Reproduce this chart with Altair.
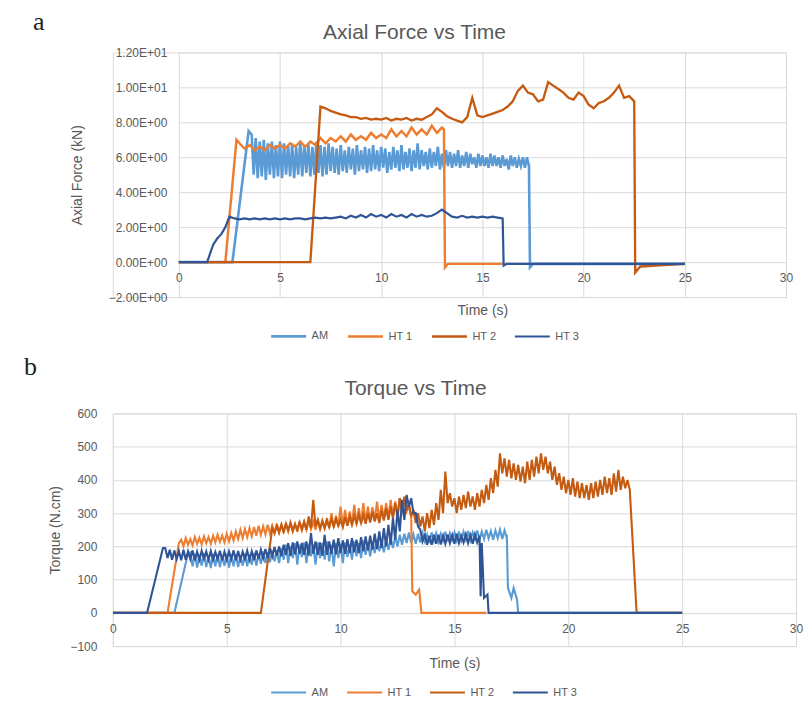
import altair as alt
import pandas as pd

SERIES = ["AM", "HT 1", "HT 2", "HT 3"]
COLORS = ["#5B9BD5", "#ED7D31", "#C55A11", "#2F5597"]
X_TICKS = [0, 5, 10, 15, 20, 25, 30]
FORCE_TICKS = [-2, 0, 2, 4, 6, 8, 10, 12]
TORQUE_TICKS = [-100, 0, 100, 200, 300, 400, 500, 600]

# ---------------- Axial force (kN) ----------------
# AM: dense oscillation, read as upper / lower envelope every 0.2 s
AM_F_HEAD_T = [0, 2.65, 3.45]
AM_F_HEAD_V = [0, 0, 7.5]
AM_F_T0, AM_F_DT = 3.6, 0.2
AM_F_HI = [7.3, 7.1, 6.9, 7.0, 6.8, 6.9, 6.7, 6.9, 6.8, 6.7,
           6.8, 6.6, 6.9, 6.7, 6.8, 6.6, 6.9, 6.7, 6.6, 6.8,
           6.6, 6.5, 6.7, 6.4, 6.6, 6.5, 6.7, 6.4, 6.6, 6.5,
           6.7, 6.4, 6.6, 6.5, 6.3, 6.6, 6.4, 6.7, 6.3, 6.5,
           6.4, 6.8, 6.4, 6.3, 6.5, 6.3, 6.6, 6.2, 6.4, 6.3,
           6.2, 6.4, 6.1, 6.3, 6.2, 6.0, 6.2, 6.1, 6.0, 6.2,
           6.1, 6.0, 6.1, 5.9, 6.1, 6.0, 5.9, 6.0, 6.0]
AM_F_LO = [5.0, 4.8, 4.9, 4.7, 5.0, 4.8, 4.9, 4.8, 5.0, 4.9,
           4.8, 5.0, 4.9, 5.1, 4.9, 5.0, 5.1, 4.9, 5.0, 5.2,
           5.1, 5.0, 5.2, 5.1, 5.3, 5.0, 5.2, 5.3, 5.1, 5.2,
           5.3, 5.2, 5.4, 5.1, 5.3, 5.4, 5.2, 5.3, 5.4, 5.2,
           5.4, 5.3, 5.5, 5.3, 5.4, 5.5, 5.3, 5.4, 5.5, 5.4,
           5.5, 5.4, 5.5, 5.4, 5.6, 5.4, 5.5, 5.5, 5.4, 5.5,
           5.5, 5.4, 5.5, 5.3, 5.5, 5.4, 5.5, 5.4, 5.5]
AM_F_TAIL_T = [17.3, 17.35, 17.5, 25]
AM_F_TAIL_V = [5.6, -0.3, -0.1, -0.1]

HT1_F_HEAD_T = [0, 2.3, 2.85]
HT1_F_HEAD_V = [0, 0, 7.0]
HT1_F_T0, HT1_F_DT = 3.0, 0.25
HT1_F_BAND = [6.8, 6.5, 6.7, 6.4, 6.6, 6.4, 6.7, 6.5, 6.7, 6.5,
              6.8, 6.6, 6.9, 6.6, 6.9, 6.7, 7.1, 6.8, 7.1, 6.9,
              7.2, 6.9, 7.3, 7.0, 7.2, 7.0, 7.4, 7.1, 7.3, 7.1,
              7.6, 7.2, 7.5, 7.2, 7.7, 7.3, 7.6, 7.3, 7.8, 7.4,
              7.7]
HT1_F_TAIL_T = [13.1, 13.15, 13.3, 16.0]
HT1_F_TAIL_V = [7.6, -0.3, -0.1, -0.1]

HT2_F_HEAD_T = [0, 6.5, 7.0]
HT2_F_HEAD_V = [0, 0, 8.9]
HT2_F_T0, HT2_F_DT = 7.25, 0.25
HT2_F_BAND = [8.8, 8.65, 8.55, 8.45, 8.4, 8.3, 8.3, 8.2, 8.25, 8.15,
              8.2, 8.15, 8.25, 8.1, 8.2, 8.15, 8.25, 8.1, 8.2, 8.15,
              8.3, 8.45, 8.8, 8.6, 8.35, 8.2, 8.1, 8.0, 8.3, 9.4,
              8.4, 8.3, 8.4, 8.5, 8.6, 8.7, 8.9, 9.2, 9.8, 10.1,
              9.7, 9.6, 9.2, 9.3, 10.3, 10.1, 9.9, 9.7, 9.4, 9.3,
              9.7, 9.5, 9.0, 8.8, 9.1, 9.2, 9.4, 9.7, 10.1, 9.4,
              9.5, 9.2]
HT2_F_TAIL_T = [22.55, 22.8, 25]
HT2_F_TAIL_V = [-0.6, -0.25, -0.1]

HT3_F_HEAD_T = [0, 1.4, 1.55, 1.7, 1.9, 2.1, 2.3, 2.5]
HT3_F_HEAD_V = [0, 0, 0.5, 1.0, 1.35, 1.6, 2.0, 2.6]
HT3_F_T0, HT3_F_DT = 2.75, 0.25
HT3_F_BAND = [2.5, 2.45, 2.5, 2.45, 2.5, 2.45, 2.5, 2.45, 2.5, 2.45,
              2.5, 2.45, 2.5, 2.5, 2.45, 2.5, 2.55, 2.5, 2.55, 2.5,
              2.55, 2.6, 2.5, 2.65, 2.55, 2.7, 2.55, 2.75, 2.6, 2.7,
              2.55, 2.75, 2.6, 2.7, 2.55, 2.75, 2.6, 2.7, 2.6, 2.65,
              2.8, 3.0, 2.8, 2.6, 2.55, 2.65, 2.55, 2.6, 2.55, 2.6,
              2.55, 2.6, 2.55, 2.5]
HT3_F_TAIL_T = [16.05, 16.2, 25]
HT3_F_TAIL_V = [-0.2, -0.1, -0.1]

# ---------------- Torque (N.cm) : upper / lower envelopes every 0.2 s ----------------
AM_Q_HEAD_T = [0, 2.7, 3.3]
AM_Q_HEAD_V = [0, 0, 180]
AM_Q_T0, AM_Q_DT = 3.4, 0.2
AM_Q_HI = [182, 178, 175, 180, 172, 178, 176, 170, 178, 174,
           176, 172, 178, 175, 180, 178, 185, 182, 188, 186,
           195, 205, 200, 210, 205, 212, 208, 205, 212, 210,
           215, 205, 210, 208, 212, 205, 215, 210, 218, 212,
           215, 220, 218, 222, 225, 230, 235, 238, 242, 236,
           238, 240, 236, 242, 240, 238, 244, 240, 242, 245,
           244, 246, 242, 248, 245, 250, 246, 248, 250, 248]
AM_Q_LO = [140, 136, 142, 138, 135, 140, 138, 142, 136, 140,
           138, 142, 140, 145, 142, 148, 150, 152, 155, 150,
           160, 150, 165, 145, 168, 150, 170, 145, 165, 160,
           155, 140, 165, 150, 168, 160, 170, 165, 175, 170,
           180, 185, 182, 190, 195, 200, 205, 210, 212, 208,
           212, 215, 210, 216, 214, 218, 215, 220, 217, 218,
           220, 218, 222, 220, 222, 224, 220, 225, 222, 225]
AM_Q_TAIL_T = [17.3, 17.35, 17.5, 17.6, 17.75, 17.8, 25]
AM_Q_TAIL_V = [235, 75, 45, 75, 40, 0, 0]

HT1_Q_HEAD_T = [0, 2.4, 2.9]
HT1_Q_HEAD_V = [0, 0, 210]
HT1_Q_T0, HT1_Q_DT = 3.0, 0.2
HT1_Q_HI = [220, 225, 222, 228, 226, 230, 228, 232, 235, 233,
            238, 240, 245, 250, 252, 255, 258, 262, 260, 265,
            262, 268, 265, 270, 272, 268, 275, 272, 278, 275,
            280, 278, 285, 300, 290, 320, 310, 305, 325, 315,
            330, 320, 318, 335, 325, 330, 340, 335, 345, 340,
            320]
HT1_Q_LO = [200, 205, 203, 208, 206, 210, 208, 212, 214, 212,
            215, 218, 222, 225, 228, 230, 232, 235, 236, 238,
            240, 242, 240, 245, 246, 244, 248, 250, 252, 250,
            252, 255, 255, 258, 260, 262, 262, 265, 268, 270,
            272, 275, 278, 280, 282, 285, 288, 292, 300, 305,
            290]
HT1_Q_TAIL_T = [13.1, 13.15, 13.3, 13.45, 13.55, 16.4]
HT1_Q_TAIL_V = [290, 65, 55, 70, 0, 0]

HT2_Q_HEAD_T = [0, 6.5]
HT2_Q_HEAD_V = [0, 0]
HT2_Q_T0, HT2_Q_DT = 7.0, 0.2
HT2_Q_HI = [255, 262, 265, 268, 270, 266, 272, 275, 290, 340,
            280, 275, 278, 282, 285, 280, 288, 290, 292, 295,
            295, 300, 305, 300, 310, 315, 320, 330, 345, 350,
            330, 310, 300, 290, 300, 310, 330, 370, 425, 360,
            345, 350, 355, 365, 350, 360, 370, 385, 405, 430,
            480, 465, 460, 450, 445, 440, 455, 460, 470, 480,
            470, 455, 440, 420, 410, 400, 405, 395, 390, 385,
            390, 395, 400, 410, 405, 420, 430, 410, 400]
HT2_Q_LO = [240, 242, 245, 248, 246, 250, 252, 250, 255, 260,
            252, 255, 258, 260, 262, 258, 262, 265, 268, 270,
            268, 272, 275, 270, 278, 280, 285, 290, 300, 310,
            290, 270, 260, 245, 255, 265, 280, 300, 330, 320,
            300, 310, 315, 320, 310, 320, 330, 340, 360, 380,
            420, 410, 405, 400, 395, 390, 400, 410, 420, 430,
            420, 400, 385, 370, 360, 355, 350, 345, 345, 340,
            345, 350, 355, 360, 355, 365, 370, 375, 370]
HT2_Q_TAIL_T = [23.0, 25]
HT2_Q_TAIL_V = [0, 0]

HT3_Q_HEAD_T = [0, 1.5, 2.2]
HT3_Q_HEAD_V = [0, 0, 195]
HT3_Q_T0, HT3_Q_DT = 2.3, 0.2
HT3_Q_HI = [195, 190, 188, 186, 190, 185, 188, 184, 187, 185,
            186, 183, 187, 184, 185, 188, 186, 184, 187, 185,
            188, 190, 192, 195, 198, 200, 205, 210, 212, 215,
            210, 215, 240, 215, 212, 235, 215, 220, 225, 218,
            222, 225, 220, 228, 230, 232, 238, 245, 255, 265,
            285, 310, 340, 355, 345, 300, 250, 235, 232, 235,
            235, 232, 236, 234, 238, 232, 236, 234, 236, 232]
HT3_Q_LO = [165, 160, 162, 158, 160, 162, 158, 160, 163, 160,
            160, 162, 158, 160, 162, 158, 160, 162, 160, 158,
            162, 165, 165, 170, 172, 170, 175, 172, 176, 178,
            175, 172, 178, 175, 172, 175, 178, 176, 180, 178,
            180, 182, 180, 185, 188, 190, 192, 195, 200, 205,
            220, 245, 280, 320, 300, 260, 215, 205, 205, 208,
            206, 208, 210, 208, 210, 212, 210, 208, 212, 210]
HT3_Q_TAIL_T = [16.15, 16.3, 16.45, 16.5, 25]
HT3_Q_TAIL_V = [50, 45, 55, 0, 0]


def rows_single(name, head_t, head_v, t0, dt, band, tail_t, tail_v):
    rows = [{"t": t, "v": v, "s": name} for t, v in zip(head_t, head_v)]
    rows += [{"t": round(t0 + i * dt, 3), "v": v, "s": name} for i, v in enumerate(band)]
    rows += [{"t": t, "v": v, "s": name} for t, v in zip(tail_t, tail_v)]
    return rows


def rows_envelope(name, head_t, head_v, t0, dt, hi, lo, tail_t, tail_v):
    # the recorded signal swings between its upper and lower envelope
    rows = [{"t": t, "v": v, "s": name} for t, v in zip(head_t, head_v)]
    for i, (h, l) in enumerate(zip(hi, lo)):
        rows.append({"t": round(t0 + i * dt, 3), "v": h, "s": name})
        rows.append({"t": round(t0 + i * dt + dt / 2, 3), "v": l, "s": name})
    rows += [{"t": t, "v": v, "s": name} for t, v in zip(tail_t, tail_v)]
    return rows


force_df = pd.DataFrame(
    rows_envelope("AM", AM_F_HEAD_T, AM_F_HEAD_V, AM_F_T0, AM_F_DT, AM_F_HI, AM_F_LO, AM_F_TAIL_T, AM_F_TAIL_V)
    + rows_single("HT 1", HT1_F_HEAD_T, HT1_F_HEAD_V, HT1_F_T0, HT1_F_DT, HT1_F_BAND, HT1_F_TAIL_T, HT1_F_TAIL_V)
    + rows_single("HT 2", HT2_F_HEAD_T, HT2_F_HEAD_V, HT2_F_T0, HT2_F_DT, HT2_F_BAND, HT2_F_TAIL_T, HT2_F_TAIL_V)
    + rows_single("HT 3", HT3_F_HEAD_T, HT3_F_HEAD_V, HT3_F_T0, HT3_F_DT, HT3_F_BAND, HT3_F_TAIL_T, HT3_F_TAIL_V)
)
torque_df = pd.DataFrame(
    rows_envelope("AM", AM_Q_HEAD_T, AM_Q_HEAD_V, AM_Q_T0, AM_Q_DT, AM_Q_HI, AM_Q_LO, AM_Q_TAIL_T, AM_Q_TAIL_V)
    + rows_envelope("HT 1", HT1_Q_HEAD_T, HT1_Q_HEAD_V, HT1_Q_T0, HT1_Q_DT, HT1_Q_HI, HT1_Q_LO, HT1_Q_TAIL_T, HT1_Q_TAIL_V)
    + rows_envelope("HT 2", HT2_Q_HEAD_T, HT2_Q_HEAD_V, HT2_Q_T0, HT2_Q_DT, HT2_Q_HI, HT2_Q_LO, HT2_Q_TAIL_T, HT2_Q_TAIL_V)
    + rows_envelope("HT 3", HT3_Q_HEAD_T, HT3_Q_HEAD_V, HT3_Q_T0, HT3_Q_DT, HT3_Q_HI, HT3_Q_LO, HT3_Q_TAIL_T, HT3_Q_TAIL_V)
)

FONT = "Liberation Sans"
GREY = "#595959"
GRID = "#D9D9D9"


def panel(df, ytitle, yticks, ydomain, ylabel_expr, title, title_x, title_y,
          width, height, x_range_start, x_offset, x_label_pad, x_title_pad,
          y_offset, y_label_pad, y_title_pad, legend_x, legend_y,
          letter, letter_x, letter_y, widths):
    lines = alt.Chart(df).mark_line(clip=True).encode(
        x=alt.X("t:Q", title="Time (s)",
                scale=alt.Scale(domain=[0, 30], nice=False, range=[x_range_start, width]),
                axis=alt.Axis(values=X_TICKS, offset=x_offset, labelPadding=x_label_pad,
                              titlePadding=x_title_pad, ticks=False, domain=False,
                              labelFlush=False,
                              grid=True, gridColor=GRID, labelFont=FONT, titleFont=FONT,
                              labelFontSize=12, titleFontSize=14,
                              labelColor=GREY, titleColor=GREY, titleFontWeight="normal")),
        y=alt.Y("v:Q", title=ytitle,
                scale=alt.Scale(domain=ydomain, nice=False),
                axis=alt.Axis(values=yticks, labelExpr=ylabel_expr, ticks=False, domain=False,
                              offset=y_offset, labelPadding=y_label_pad,
                              titlePadding=y_title_pad, labelFlush=False,
                              grid=True, gridColor=GRID, labelFont=FONT, titleFont=FONT,
                              labelFontSize=12, titleFontSize=14,
                              labelColor=GREY, titleColor=GREY, titleFontWeight="normal")),
        color=alt.Color("s:N", scale=alt.Scale(domain=SERIES, range=COLORS),
                        legend=alt.Legend(orient="none", legendX=legend_x, legendY=legend_y,
                                          direction="horizontal", title=None,
                                          symbolType="stroke", symbolSize=1225,
                                          symbolStrokeWidth=2, labelFont=FONT,
                                          labelFontSize=11, labelColor=GREY,
                                          labelOffset=4, columnPadding=14, padding=0)),
        strokeWidth=alt.StrokeWidth("s:N", scale=alt.Scale(domain=SERIES, range=widths),
                                    legend=None),
    )
    head = alt.Chart(pd.DataFrame({"lab": [title]})).mark_text(
        align="center", baseline="middle", fontSize=21, font=FONT, color=GREY
    ).encode(x=alt.value(title_x), y=alt.value(title_y), text="lab:N")
    tag = alt.Chart(pd.DataFrame({"lab": [letter]})).mark_text(
        align="left", baseline="alphabetic", fontSize=26, font="Liberation Serif",
        color="#222222"
    ).encode(x=alt.value(letter_x), y=alt.value(letter_y), text="lab:N")
    return alt.layer(lines, head, tag).properties(width=width, height=height)


force_label = ("datum.value == 0 ? '0.00E+00' : (abs(datum.value) >= 10 ? "
               "format(datum.value / 10, '.2f') + 'E+01' : format(datum.value, '.2f') + 'E+00')")

# both panels share the same left origin (x = 112 on the page); the force panel's
# plotting area starts 66 px further right, as in the original figure
top = panel(force_df, "Axial Force (kN)", FORCE_TICKS, [-2, 12], force_label,
            "Axial Force vs Time", 302, -19,
            674, 245, 66, -35, 10, 20,
            -66, 12, 24, 157, 265,
            "a", -80, -22, [2.6, 2.2, 2.6, 2.2])
bottom = panel(torque_df, "Torque (N.cm)", TORQUE_TICKS, [-100, 600], "datum.label",
               "Torque vs Time", 303, -24,
               684, 233, 0, -33, 10, 22,
               0, 16, 7, 157, 260.5,
               "b", -89, -38, [2.1, 2.1, 2.1, 2.1])

chart = alt.vconcat(top, bottom, spacing=10.5).resolve_scale(
    color="independent", x="independent", y="independent", strokeWidth="independent"
).properties(
    padding={"left": 15, "top": 0, "right": 0, "bottom": 0}
).configure_view(stroke=None).configure(background="white")

chart.save("out.html", embed_options={"renderer": "svg", "actions": False})
